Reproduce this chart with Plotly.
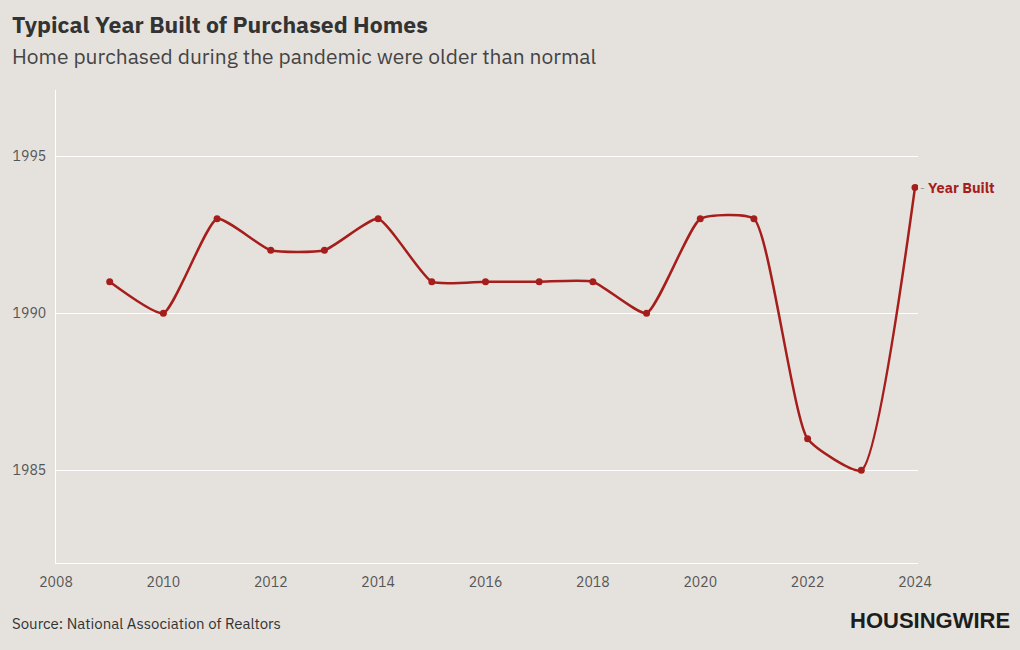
import plotly.graph_objects as go

years = [2009, 2010, 2011, 2012, 2013, 2014, 2015, 2016, 2017, 2018, 2019, 2020, 2021, 2022, 2023, 2024]
year_built = [1991, 1990, 1993, 1992, 1992, 1993, 1991, 1991, 1991, 1991, 1990, 1993, 1993, 1986, 1985, 1994]
x_ticks = [2008, 2010, 2012, 2014, 2016, 2018, 2020, 2022, 2024]
y_ticks = [1985, 1990, 1995]

RED = "#A51E1B"
BG = "#E5E2DE"
FONT = "IBM Plex Sans, Roboto, sans-serif"

fig = go.Figure()
fig.add_trace(go.Scatter(
    x=years, y=year_built, mode="lines+markers",
    line=dict(color=RED, width=2.5, shape="spline", smoothing=0.5),
    marker=dict(color=RED, size=7),
    name="Year Built", showlegend=False, hoverinfo="x+y",
))

fig.add_annotation(x=years[-1], y=year_built[-1], xref="x", yref="y",
                   text="<b>Year Built</b>", showarrow=False, xanchor="left",
                   xshift=11, font=dict(color=RED, size=14.5, family=FONT))
fig.add_annotation(x=years[-1], y=year_built[-1], xref="x", yref="y",
                   text="-", showarrow=False, xanchor="left", xshift=3,
                   font=dict(color="#999", size=12, family=FONT))

fig.update_layout(
    width=1020, height=650,
    paper_bgcolor=BG, plot_bgcolor=BG,
    margin=dict(l=56, r=102, t=90, b=87, autoexpand=False),
    font=dict(family=FONT, color="#555"),
    xaxis=dict(range=[2008, 2024.056], tickvals=x_ticks, showgrid=False,
               showline=True, linecolor="#FFFFFF", linewidth=1, zeroline=False,
               tickfont=dict(size=14, color="#555"), ticks="", ticklabelstandoff=6),
    yaxis=dict(range=[1982.05, 1997.1], tickvals=y_ticks, showgrid=True,
               gridcolor="#FFFFFF", gridwidth=1, showline=True, linecolor="#FFFFFF",
               zeroline=False, tickfont=dict(size=14, color="#555"), ticks="",
               ticklabelstandoff=6),
    annotations=list(fig.layout.annotations) + [
        dict(text="<b>Typical Year Built of Purchased Homes</b>", xref="paper", yref="paper",
             x=-56/862, y=1, yshift=66, xanchor="left", yanchor="middle", showarrow=False,
             xshift=10, font=dict(size=23, color="#333", family=FONT)),
        dict(text="Home purchased during the pandemic were older than normal", xref="paper", yref="paper",
             x=-56/862, y=1, yshift=34, xanchor="left", yanchor="middle", showarrow=False,
             xshift=10, font=dict(size=21, color="#444", family=FONT)),
        dict(text="Source: National Association of Realtors", xref="paper", yref="paper",
             x=-56/862, y=0, yshift=-60, xanchor="left", yanchor="middle", showarrow=False,
             xshift=10, font=dict(size=15, color="#333", family=FONT)),
        dict(text="<b>HOUSINGWIRE</b>", xref="paper", yref="paper",
             x=1, xshift=94, y=0, yshift=-57, xanchor="right", yanchor="middle", showarrow=False,
             font=dict(size=22, color="#1d1d1d", family="Liberation Sans Narrow, Arial Narrow, sans-serif")),
    ],
)

fig.write_html("out.html", config={"displayModeBar": False},
               post_script="document.body.style.margin='0';document.body.style.overflow='hidden';")
